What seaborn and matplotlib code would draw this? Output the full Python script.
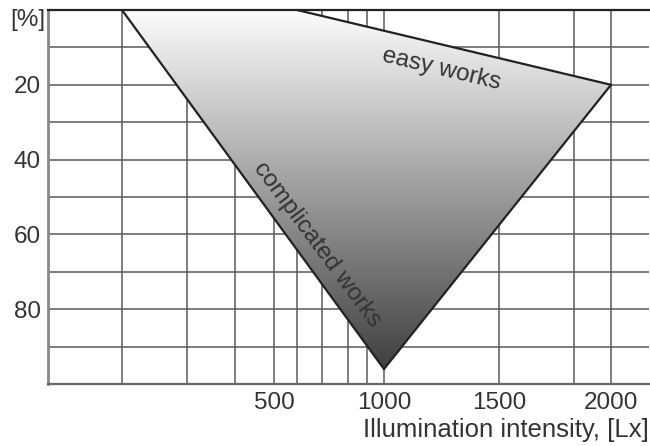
import numpy as np
import pandas as pd
import matplotlib
matplotlib.use("Agg")
import matplotlib.pyplot as plt
import seaborn as sns
from matplotlib.colors import LinearSegmentedColormap
from matplotlib.patches import Polygon

# ---- data ----
grid_lux = [200, 300, 400, 500, 600, 700, 800, 900, 1000, 1500, 1800, 2000]
label_lux = [500, 1000, 1500, 2000]
grid_pct = [10, 20, 30, 40, 50, 60, 70, 80, 90]
label_pct = [20, 40, 60, 80]

complicated_lux = [200, 1000]
complicated_pct = [0, 96]
easy_lux = [600, 2000]
easy_pct = [0, 20]

# nonuniform hand-drawn illumination scale (value -> relative position)
scale_vals = [100, 200, 300, 400, 500, 600, 700, 800, 900, 1000, 1500, 1800, 2000, 2180]
scale_pos = [48, 122, 187, 235, 274, 297, 322, 348, 367, 384, 499, 574, 611, 649]

def fwd(x):
    return np.interp(x, scale_vals, scale_pos, left=np.nan, right=np.nan)

def inv(p):
    return np.interp(p, scale_pos, scale_vals)

sns.set_theme(style="white")
plt.rcParams['font.family'] = ['Liberation Sans', 'DejaVu Sans']
txt = '#333333'
grid_c = '#5a5a5a'

fig = plt.figure(figsize=(6.5, 4.46), dpi=100)
ax = fig.add_axes([48/650, 1 - 384/446, (649 - 48)/650, (384 - 10)/446])
ax.set_xscale('function', functions=(fwd, inv))
ax.set_xlim(100, 2180)
ax.set_ylim(100, 0)

# grid
for gx in grid_lux:
    ax.axvline(gx, color=grid_c, lw=1.1, zorder=1)
for gy in grid_pct:
    ax.axhline(gy, color=grid_c, lw=1.1, zorder=1)

# polygon (gradient filled)
poly_x = [complicated_lux[0], easy_lux[0], easy_lux[1], complicated_lux[1]]
poly_y = [complicated_pct[0], easy_pct[0], easy_pct[1], complicated_pct[1]]
patch = Polygon(np.column_stack([poly_x, poly_y]), closed=True,
                facecolor='none', edgecolor='none', transform=ax.transData)
ax.add_patch(patch)
cmap = LinearSegmentedColormap.from_list('g', ['#fcfcfc', '#383838'])
grad = np.linspace(0, 1, 256).reshape(-1, 1)
im = ax.imshow(grad, extent=[0, 1, 0, 1], transform=ax.transAxes, aspect='auto',
               cmap=cmap, origin='upper', zorder=2, interpolation='bilinear')
im.set_clip_path(patch)

# outline lines
df = pd.DataFrame({
    'lux': complicated_lux + easy_lux + [easy_lux[1], complicated_lux[1]],
    'pct': complicated_pct + easy_pct + [easy_pct[1], complicated_pct[1]],
    'edge': ['complicated'] * 2 + ['easy'] * 2 + ['close'] * 2,
})
sns.lineplot(data=df, x='lux', y='pct', units='edge', estimator=None, sort=False,
             color='#222222', lw=1.6, ax=ax, zorder=3)
ax.set_xlim(100, 2180)
ax.set_ylim(100, 0)

# spines
ax.spines['right'].set_visible(False)
ax.spines['top'].set_color('#222222')
ax.spines['top'].set_linewidth(1.6)
ax.spines['left'].set_color('#888888')
ax.spines['left'].set_linewidth(2.0)
ax.spines['bottom'].set_color('#666666')
ax.spines['bottom'].set_linewidth(1.6)
for s in ax.spines.values():
    s.set_zorder(4)

ax.set_xticks(label_lux)
ax.set_xticklabels([str(v) for v in label_lux])
ax.set_yticks(label_pct)
ax.set_yticklabels([str(v) for v in label_pct])
ax.tick_params(axis='both', length=0, labelsize=17.5, labelcolor=txt)
ax.tick_params(axis='x', pad=6)
ax.tick_params(axis='y', pad=5)
for lbl, dx in zip(ax.get_xticklabels(), [3, 1, 8, 3]):
    lbl.set_x(lbl.get_position()[0])
ax.set_xlabel('Illumination intensity, [Lx]', fontsize=18.5, color=txt, loc='right', labelpad=3)
ax.set_ylabel('')

fig.text(45/650, 1 - 20/446, '[%]', ha='right', va='center', fontsize=17.5, color=txt)

ax.text(1252, 15.8, 'easy works', rotation=-13.4, rotation_mode='anchor',
        ha='center', va='center', fontsize=17.5, color=txt, zorder=5)
ax.text(680, 62.8, 'complicated works', rotation=-53.5, rotation_mode='anchor',
        ha='center', va='center', fontsize=17.5, color=txt, zorder=5)

fig.savefig('out.png', dpi=100)
